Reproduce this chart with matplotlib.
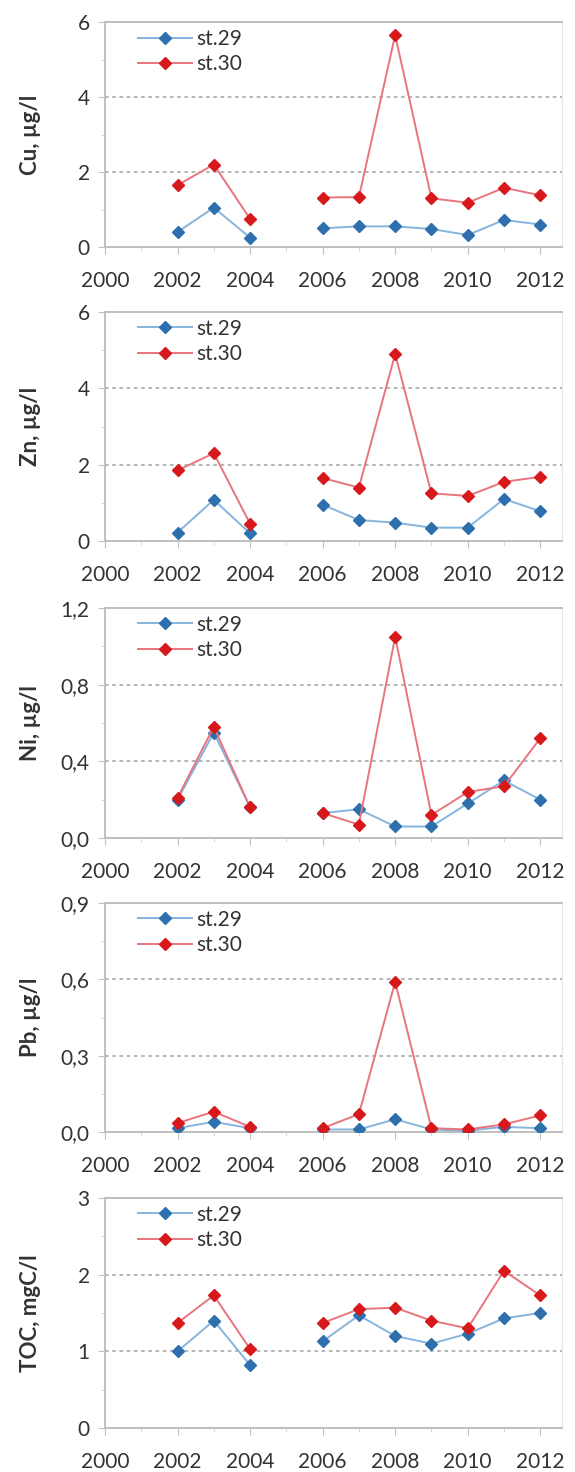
import numpy as np
import matplotlib as mpl
mpl.use('Agg')
import matplotlib.pyplot as plt
from matplotlib.ticker import MultipleLocator

plt.rcParams['font.family'] = ['Lato', 'DejaVu Sans']

years = [2002, 2003, 2004, 2005, 2006, 2007, 2008, 2009, 2010, 2011, 2012]
nan = np.nan

# station values per parameter (2005 missing -> gap)
cu_29 = [0.40, 1.05, 0.25, nan, 0.50, 0.55, 0.55, 0.48, 0.32, 0.72, 0.60]
cu_30 = [1.65, 2.20, 0.75, nan, 1.32, 1.33, 5.65, 1.30, 1.18, 1.58, 1.38]
zn_29 = [0.22, 1.08, 0.20, nan, 0.95, 0.55, 0.48, 0.35, 0.35, 1.10, 0.78]
zn_30 = [1.85, 2.30, 0.45, nan, 1.65, 1.40, 4.90, 1.25, 1.18, 1.55, 1.68]
ni_29 = [0.20, 0.55, 0.16, nan, 0.13, 0.15, 0.06, 0.06, 0.18, 0.30, 0.20]
ni_30 = [0.21, 0.58, 0.16, nan, 0.13, 0.07, 1.05, 0.12, 0.24, 0.27, 0.52]
pb_29 = [0.015, 0.04, 0.015, nan, 0.01, 0.01, 0.05, 0.01, 0.005, 0.02, 0.015]
pb_30 = [0.035, 0.08, 0.02, nan, 0.015, 0.07, 0.59, 0.015, 0.01, 0.03, 0.065]
toc_29 = [1.00, 1.40, 0.82, nan, 1.13, 1.47, 1.20, 1.10, 1.23, 1.43, 1.50]
toc_30 = [1.37, 1.73, 1.03, nan, 1.37, 1.55, 1.57, 1.40, 1.30, 2.05, 1.73]

ylabels = ['Cu, µg/l', 'Zn, µg/l', 'Ni, µg/l', 'Pb, µg/l', 'TOC, mgC/l']
ymax = [6, 6, 1.2, 0.9, 3]
ystep = [2, 2, 0.4, 0.3, 1]
ydec = [0, 0, 1, 1, 0]
xticks = [2000, 2002, 2004, 2006, 2008, 2010, 2012]

series = [(cu_29, cu_30), (zn_29, zn_30), (ni_29, ni_30), (pb_29, pb_30), (toc_29, toc_30)]

fig = plt.figure(figsize=(5.75, 14.72), dpi=100)

tops = [22, 312, 608, 903, 1198]
bots = [247, 541, 838, 1132, 1428]
H = 1472.0

for i in range(5):
    ax = fig.add_axes([105 / 575, 1 - bots[i] / H, (562 - 105) / 575, (bots[i] - tops[i]) / H])
    s29, s30 = series[i]
    ax.plot(years, s29, color='#86b4de', lw=1.4, marker='D', ms=6.5,
            mfc='#2e6fae', mec='#2e6fae', label='st.29', zorder=3)
    ax.plot(years, s30, color='#e8747e', lw=1.4, marker='D', ms=6.5,
            mfc='#d7191c', mec='#d7191c', label='st.30', zorder=4)

    ax.set_xlim(2000, 2012.6)
    ax.set_ylim(0, ymax[i])
    ax.set_xticks(xticks)
    ax.xaxis.set_minor_locator(MultipleLocator(1))
    yt = np.arange(0, ymax[i] + ystep[i] / 2, ystep[i])
    ax.set_yticks(yt)
    ax.set_yticklabels([('%.*f' % (ydec[i], v)).replace('.', ',') for v in yt])
    ax.yaxis.set_minor_locator(MultipleLocator(ystep[i] / 2))

    for v in yt[1:-1]:
        ax.axhline(v, color='#b0b0b0', lw=1.3, ls=(0, (2, 2)), zorder=1)

    for side in ['left', 'bottom', 'top']:
        ax.spines[side].set_color('#bfbfbf')
        ax.spines[side].set_linewidth(1.4)
    ax.spines['right'].set_color('#e6e6e6')
    ax.spines['right'].set_linewidth(0.8)

    ax.tick_params(axis='both', which='major', labelsize=15, colors='#bfbfbf',
                   labelcolor='#333333', length=5, direction='out')
    ax.tick_params(axis='both', which='minor', colors='#d0d0d0', length=3, direction='out')
    ax.tick_params(axis='x', pad=12)
    ax.tick_params(axis='y', pad=6)

    ax.set_ylabel(ylabels[i], fontsize=16, fontweight='bold', color='#333333')
    ax.yaxis.set_label_coords(-0.14, 0.5)

    ax.legend(loc='upper left', frameon=False, fontsize=15, handlelength=2.6,
              handletextpad=0.2, borderaxespad=0.2, labelspacing=0.25,
              bbox_to_anchor=(0.045, 1.025), labelcolor='#333333')

plt.savefig('out.png', dpi=100)
